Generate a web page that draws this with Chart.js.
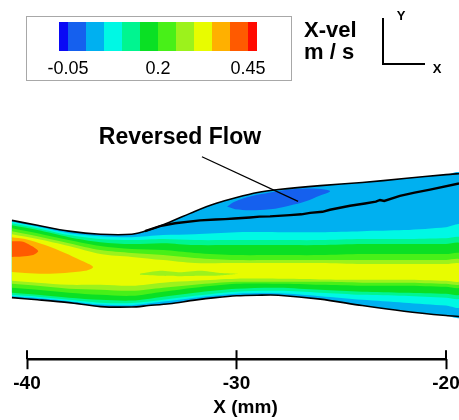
<!DOCTYPE html>
<html>
<head>
<meta charset="utf-8">
<script src="https://cdn.jsdelivr.net/npm/chart.js@4.4.1/dist/chart.umd.min.js"></script>
<style>
  html, body { margin: 0; padding: 0; background: #fff; }
  #wrap { width: 459px; height: 420px; position: relative; }
</style>
</head>
<body>
<div id="wrap"><canvas id="velChart"></canvas></div>
<script>
    const FONT = "'Liberation Sans', Arial, Helvetica, sans-serif";

    // x axis (mm)
    const xTicks = [-40, -30, -20];
    const xRange = [-41.29, -19.38];
    const yRange = [0, 17.28];

    // colour legend: level boundaries (m/s) and the 12 fill colours
    const cbBounds = [-0.05, 0, 0.05, 0.1, 0.15, 0.2, 0.25, 0.3, 0.35, 0.4, 0.45];
    const cbColors = ['#0a0af5', '#1560ee', '#00b0f0', '#00f8e4', '#00f590', '#0ae024',
                      '#48f018', '#9cf21c', '#e8fc00', '#ffb000', '#ff5a00', '#ff0a00'];
    const cbTicks = [-0.05, 0.2, 0.45];

    // channel walls
    const wallX = [-40.72, -39.5, -38, -36.5, -35, -34.2, -33.2, -32, -31, -30, -29, -28, -26, -24, -22, -20, -19.3];
    const upperWall = [6.68, 6.44, 6.16, 6.01, 6.01, 6.21, 6.59, 7.11, 7.49, 7.78, 8.02, 8.16, 8.35, 8.50, 8.69, 8.88, 8.93];
    const lowerWall = [2.96, 2.86, 2.72, 2.53, 2.51, 2.58, 2.67, 2.84, 2.96, 3.05, 3.08, 3.08, 2.89, 2.58, 2.31, 2.10, 2.05];

    // contour bands: top / bottom edge of region where u > level
    const bandX = [-40.72, -39.5, -38, -36.5, -35, -33.5, -32, -30, -28, -26, -24, -22, -20, -19.3];
    const band005Top = [6.61, 6.37, 6.06, 5.92, 5.87, 5.97, 6.01, 6.11, 6.11, 6.11, 6.16, 6.21, 6.35, 6.44];
    const band005Bot = [3.03, 2.94, 2.79, 2.63, 2.60, 2.77, 2.96, 3.15, 3.17, 3.03, 2.86, 2.72, 2.58, 2.53];
    const band010Top = [6.54, 6.30, 5.97, 5.78, 5.73, 5.78, 5.73, 5.73, 5.73, 5.73, 5.78, 5.78, 5.82, 5.82];
    const band010Bot = [3.10, 3.01, 2.86, 2.72, 2.70, 2.86, 3.05, 3.25, 3.29, 3.20, 3.10, 3.05, 2.96, 2.96];
    const band015Top = [6.44, 6.21, 5.87, 5.63, 5.54, 5.58, 5.49, 5.49, 5.49, 5.49, 5.54, 5.54, 5.54, 5.54];
    const band015Bot = [3.20, 3.10, 2.96, 2.86, 2.82, 3.01, 3.20, 3.39, 3.44, 3.34, 3.25, 3.20, 3.15, 3.15];
    const band020Top = [6.30, 6.06, 5.73, 5.44, 5.30, 5.25, 5.11, 5.01, 5.01, 5.01, 5.06, 5.06, 5.06, 5.06];
    const band020Bot = [3.44, 3.34, 3.20, 3.10, 3.05, 3.25, 3.44, 3.63, 3.63, 3.58, 3.53, 3.53, 3.48, 3.48];
    const band025Top = [6.16, 5.92, 5.58, 5.25, 5.11, 5.01, 4.87, 4.77, 4.77, 4.77, 4.77, 4.77, 4.77, 4.77];
    const band025Bot = [3.63, 3.53, 3.39, 3.34, 3.29, 3.44, 3.58, 3.72, 3.72, 3.72, 3.68, 3.68, 3.63, 3.63];
    const band030Top = [6.01, 5.78, 5.44, 5.06, 4.92, 4.77, 4.63, 4.63, 4.63, 4.63, 4.58, 4.58, 4.58, 4.58];
    const band030Bot = [3.77, 3.68, 3.58, 3.58, 3.53, 3.68, 3.77, 3.87, 3.87, 3.84, 3.82, 3.82, 3.77, 3.77];

    // closed patches
    const orangeX = [-40.72, -40.10, -39.14, -38.19, -37.47, -36.85, -37.23, -38.19, -39.14, -40.10, -40.72];
    const orangeY = [5.87, 5.78, 5.49, 5.11, 4.77, 4.44, 4.25, 4.15, 4.11, 4.15, 4.20];
    const redX = [-40.72, -40.24, -39.86, -39.47, -39.71, -40.24, -40.72];
    const redY = [5.68, 5.66, 5.49, 5.20, 5.01, 4.94, 4.92];
    const tongueX = [-34.61, -33.65, -32.70, -31.74, -30.79, -29.93, -30.79, -31.74, -32.70, -33.65, -34.61];
    const tongueY = [4.11, 4.25, 4.18, 4.25, 4.15, 4.11, 4.03, 4.01, 3.99, 4.01, 4.06];
    const reverseX = [-30.45, -30.07, -29.36, -28.40, -27.45, -26.49, -25.78, -25.54, -26.01, -26.73, -27.45, -28.40, -29.36, -30.07];
    const reverseY = [7.35, 7.59, 7.83, 8.02, 8.16, 8.21, 8.16, 8.07, 7.88, 7.59, 7.40, 7.21, 7.16, 7.21];

    // separation streamline
    const sepX = [-34.37, -33.65, -32.94, -31.74, -31.0, -30.55, -30.1, -29.36, -28.9, -28.40, -27.45, -26.9,
                  -26.49, -25.9, -25.54, -24.58, -23.87, -23.35, -23.15, -22.95, -22.20, -21.5, -20.76, -19.38];
    const sepY = [6.16, 6.40, 6.54, 6.68, 6.72, 6.74, 6.77, 6.82, 6.86, 6.87, 6.93, 6.97,
                  7.04, 7.09, 7.19, 7.38, 7.49, 7.58, 7.66, 7.61, 7.86, 8.01, 8.16, 8.45];

    // annotation
    const noteText = 'Reversed Flow';
    const notePos = [-32.70, 10.64];
    const noteLineX = [-31.65, -27.06];
    const noteLineY = [9.74, 7.59];

    function pts(xs, ys) { return xs.map((x, i) => ({ x, y: ys[i] })); }
    function band(xs, top, bot) {
        const out = pts(xs, top);
        for (let i = xs.length - 1; i >= 0; i--) out.push({ x: xs[i], y: bot[i] });
        return out;
    }
    function patch(data, color, tension) {
        return { data, fill: 'shape', backgroundColor: color, borderWidth: 0, pointRadius: 0, tension: tension };
    }
    function curve(data, width, tension) {
        return { data, fill: false, borderColor: '#000', borderWidth: width, pointRadius: 0, tension: tension };
    }

    // colour of the interval that starts at level index i of cbBounds
    const col = i => cbColors[i + 1];

    const layers = [
        patch(band(wallX, upperWall, lowerWall), col(1), 0.3),
        patch(band(bandX, band005Top, band005Bot), col(2), 0.3),
        patch(band(bandX, band010Top, band010Bot), col(3), 0.3),
        patch(band(bandX, band015Top, band015Bot), col(4), 0.3),
        patch(band(bandX, band020Top, band020Bot), col(5), 0.3),
        patch(band(bandX, band025Top, band025Bot), col(6), 0.3),
        patch(band(bandX, band030Top, band030Bot), col(7), 0.3),
        patch(pts(tongueX, tongueY), col(6), 0.2),
        patch(pts(orangeX, orangeY), col(8), 0.3),
        patch(pts(redX, redY), col(9), 0.3),
        patch(pts(reverseX, reverseY), col(0), 0.35),
        curve(pts(sepX, sepY), 2.4, 0),
        curve(pts(wallX, upperWall), 1.6, 0.3),
        curve(pts(wallX, lowerWall), 1.6, 0.3),
        curve(pts(noteLineX, noteLineY), 1.3, 0)
    ];
    // first layer at the bottom of the stack
    layers.forEach((d, i) => { d.order = layers.length - i; });

    const decor = {
        id: 'decor',
        afterDraw(chart) {
            const { ctx, chartArea, scales: { x, y } } = chart;
            ctx.save();
            ctx.strokeStyle = '#000';
            ctx.fillStyle = '#000';

            // axis line between the outer ticks, ticks also reach upwards
            const x0 = x.getPixelForValue(xTicks[0]);
            const x1 = x.getPixelForValue(xTicks[xTicks.length - 1]);
            const yb = chartArea.bottom;
            ctx.lineWidth = 2.5;
            ctx.beginPath();
            ctx.moveTo(x0, yb); ctx.lineTo(x1, yb);
            ctx.stroke();
            ctx.lineWidth = 2;
            xTicks.forEach(v => {
                const px = x.getPixelForValue(v);
                ctx.beginPath();
                ctx.moveTo(px, yb - 9); ctx.lineTo(px, yb);
                ctx.stroke();
            });
            ctx.textAlign = 'center';
            ctx.textBaseline = 'middle';
            ctx.font = `bold 19px ${FONT}`;
            ctx.fillText('X (mm)', x.getPixelForValue(-30) + 9, 408);

            // annotation label
            ctx.font = `bold 23px ${FONT}`;
            ctx.fillText(noteText, x.getPixelForValue(notePos[0]), y.getPixelForValue(notePos[1]));

            // colour legend
            ctx.lineWidth = 1;
            ctx.strokeStyle = '#a8a8a8';
            ctx.strokeRect(26.5, 16.5, 265, 64);
            const cbLeft = 68, cbStep = 18, cbTop = 22, cbH = 29;
            const cbPx = v => cbLeft + (v - cbBounds[0]) / (cbBounds[1] - cbBounds[0]) * cbStep;
            cbColors.forEach((c, i) => {
                const a = i === 0 ? cbPx(cbBounds[0]) - cbStep / 2 : cbPx(cbBounds[i - 1]);
                const b = i === cbColors.length - 1 ? cbPx(cbBounds[cbBounds.length - 1]) + cbStep / 2 : cbPx(cbBounds[i]);
                ctx.fillStyle = c;
                ctx.fillRect(a, cbTop, b - a, cbH);
            });
            ctx.fillStyle = '#000';
            ctx.font = `18px ${FONT}`;
            cbTicks.forEach(v => ctx.fillText(String(v), cbPx(v), 69));

            ctx.textAlign = 'left';
            ctx.font = `bold 22px ${FONT}`;
            ctx.fillText('X-vel', 304, 31);
            ctx.fillText('m / s', 304, 53);

            // orientation glyph
            ctx.strokeStyle = '#000';
            ctx.lineWidth = 2;
            ctx.beginPath();
            ctx.moveTo(383, 18); ctx.lineTo(383, 64); ctx.lineTo(425, 64);
            ctx.stroke();
            ctx.textAlign = 'center';
            ctx.font = `bold 13px ${FONT}`;
            ctx.fillText('Y', 401, 16);
            ctx.fillText('X', 437, 69);
            ctx.restore();
        }
    };

    new Chart(document.getElementById('velChart').getContext('2d'), {
        type: 'line',
        data: { datasets: layers },
        options: {
            responsive: true,
            maintainAspectRatio: false,
            animation: false,
            layout: { padding: { left: 0, right: 0, top: 0, bottom: 22 } },
            plugins: { legend: { display: false }, tooltip: { enabled: false } },
            scales: {
                x: {
                    type: 'linear',
                    min: xRange[0],
                    max: xRange[1],
                    border: { display: false },
                    grid: { display: true, drawOnChartArea: false, drawTicks: true, tickLength: 10, tickWidth: 2, tickColor: '#000' },
                    ticks: { color: '#000', font: { family: FONT, size: 19, weight: 'bold' }, padding: 3, maxRotation: 0, autoSkip: false },
                    afterBuildTicks: axis => { axis.ticks = xTicks.map(v => ({ value: v })); },
                    afterFit: axis => { axis.paddingLeft = 0; axis.paddingRight = 0; }
                },
                y: { type: 'linear', display: false, min: yRange[0], max: yRange[1] }
            }
        },
        plugins: [decor]
    });
</script>
</body>
</html>
